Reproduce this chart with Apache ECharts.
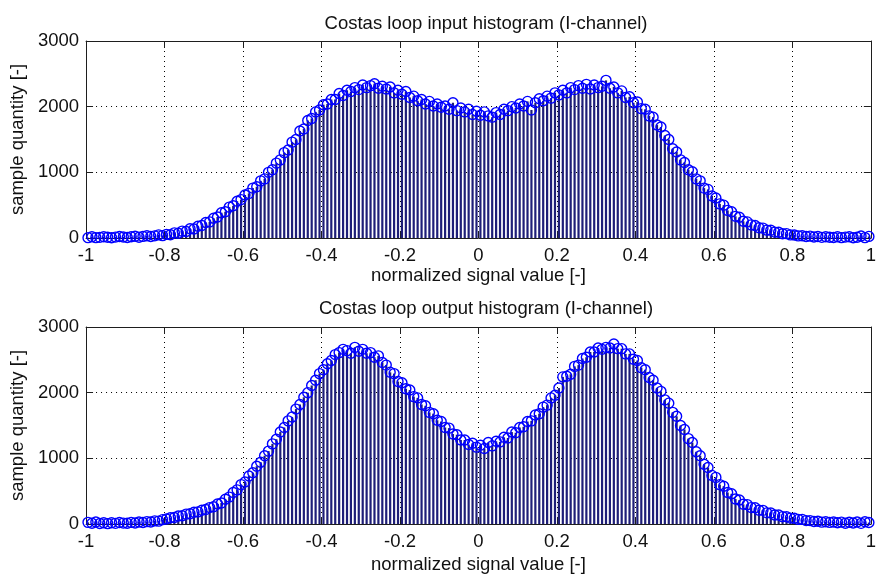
<!DOCTYPE html>
<html>
<head>
<meta charset="utf-8">
<script src="https://cdn.jsdelivr.net/npm/echarts@6/dist/echarts.min.js"></script>
<style>
html,body{margin:0;padding:0;background:#fff;}
#chart{width:879px;height:580px;}
</style>
</head>
<body>
<div id="chart"></div>
<script>
// Histogram definition: 200 bins spanning [-1, 1]
var binLow = -1, binHigh = 1, binCount = 200;

// Costas loop input histogram (I-channel), one value per bin, left to right
var inputCounts = [
  5, 18, 6, 10, 19, 12, 4, 14, 22, 15,
  8, 18, 26, 12, 24, 34, 22, 33, 48, 36,
  55, 50, 78, 72, 105, 100, 140, 138, 180, 190,
  235, 245, 300, 320, 385, 400, 470, 490, 560, 585,
  655, 680, 760, 780, 870, 900, 1000, 1040, 1140, 1190,
  1300, 1340, 1460, 1500, 1630, 1660, 1790, 1820, 1920, 1950,
  2030, 2040, 2110, 2110, 2200, 2170, 2250, 2230, 2290, 2260,
  2330, 2290, 2320, 2350, 2280, 2310, 2270, 2300, 2210, 2250,
  2190, 2230, 2140, 2160, 2090, 2110, 2040, 2080, 2010, 2040,
  1990, 2010, 1960, 2060, 1940, 1980, 1920, 1960, 1880, 1930,
  1870, 1920, 1860, 1840, 1910, 1880, 1960, 1940, 2000, 1980,
  2040, 2010, 2080, 1950, 2060, 2120, 2090, 2160, 2130, 2210,
  2180, 2250, 2210, 2290, 2260, 2320, 2280, 2340, 2270, 2330,
  2290, 2310, 2400, 2280, 2300, 2210, 2240, 2140, 2150, 2060,
  2070, 1970, 1960, 1860, 1840, 1720, 1690, 1560, 1500, 1360,
  1310, 1190, 1150, 1040, 1010, 900, 870, 760, 740, 640,
  610, 520, 500, 420, 400, 330, 315, 255, 245, 200,
  190, 155, 150, 120, 118, 90, 88, 65, 66, 48,
  46, 32, 34, 22, 28, 15, 22, 10, 18, 12,
  8, 18, 6, 14, 20, 4, 12, 30, 6, 24
];

// Costas loop output histogram (I-channel), one value per bin, left to right
var outputCounts = [
  25, 12, 30, 8, 18, 6, 20, 10, 22, 14,
  12, 24, 16, 30, 22, 36, 30, 48, 44, 66,
  76, 95, 100, 122, 126, 150, 155, 180, 185, 210,
  220, 250, 262, 305, 320, 378, 410, 480, 520, 600,
  640, 730, 780, 880, 940, 1040, 1110, 1220, 1290, 1400,
  1470, 1570, 1630, 1750, 1820, 1930, 2000, 2110, 2190, 2290,
  2350, 2440, 2490, 2580, 2610, 2660, 2640, 2600, 2690, 2630,
  2660, 2600, 2610, 2540, 2560, 2460, 2420, 2310, 2290, 2170,
  2150, 2060, 2040, 1940, 1920, 1820, 1800, 1700, 1680, 1580,
  1560, 1470, 1460, 1370, 1360, 1280, 1280, 1210, 1230, 1170,
  1200, 1150, 1240, 1190, 1260, 1250, 1320, 1310, 1400, 1390,
  1470, 1480, 1560, 1570, 1660, 1680, 1780, 1810, 1920, 1960,
  2070, 2240, 2250, 2280, 2400, 2420, 2520, 2540, 2620, 2620,
  2680, 2660, 2690, 2680, 2740, 2670, 2670, 2590, 2590, 2510,
  2490, 2380, 2350, 2230, 2190, 2070, 2020, 1890, 1840, 1700,
  1640, 1500, 1440, 1300, 1240, 1100, 1040, 910, 860, 740,
  710, 600, 575, 480, 460, 380, 365, 300, 295, 250,
  248, 210, 208, 170, 168, 138, 136, 112, 110, 90,
  88, 70, 70, 52, 52, 38, 42, 28, 34, 24,
  30, 18, 28, 12, 26, 16, 30, 10, 34, 22
];

var titles = ['Costas loop input histogram (I-channel)', 'Costas loop output histogram (I-channel)'];
var xAxisName = 'normalized signal value [-]';
var yAxisName = 'sample quantity [-]';
var xTicks = [-1, -0.8, -0.6, -0.4, -0.2, 0, 0.2, 0.4, 0.6, 0.8, 1];
var yTicks = [0, 1000, 2000, 3000];

// bin centers from the histogram definition
var binCenters = [];
var binWidth = (binHigh - binLow) / binCount;
for (var i = 0; i < binCount; i++) {
  binCenters.push(+(binLow + binWidth * (i + 0.5)).toFixed(4));
}
function pairs(vals) {
  return vals.map(function (v, i) { return [binCenters[i], v]; });
}

var FONT = 'Liberation Sans';
var FS = 18.5;
var frameColor = '#1e1e1e';
var gridTop = [41, 327];
var gridH = 197;
var nameGaps = [28, 31];

var option = {
  backgroundColor: '#fff',
  animation: false,
  title: titles.map(function (t, k) {
    return {
      text: t, left: 481, top: k === 0 ? 9 : 294, textAlign: 'center',
      textStyle: { fontFamily: FONT, fontSize: FS, fontWeight: 'normal', color: '#111' }
    };
  }),
  grid: gridTop.map(function (t) {
    return { left: 86, top: t, width: 790, height: gridH, containLabel: false };
  }),
  xAxis: [],
  yAxis: [],
  series: []
};

for (var g = 0; g < 2; g++) {
  option.xAxis.push({
    type: 'value', gridIndex: g, min: xTicks[0], max: xTicks[xTicks.length - 1], interval: 0.2,
    position: 'bottom',
    name: xAxisName, nameLocation: 'middle', nameGap: nameGaps[g],
    nameTextStyle: { fontFamily: FONT, fontSize: FS, color: '#111' },
    axisLine: { show: true, onZero: false, lineStyle: { color: frameColor, width: 1 } },
    axisTick: { show: true, inside: true, length: 7, lineStyle: { color: frameColor } },
    axisLabel: { fontFamily: FONT, fontSize: FS, color: '#111', margin: 8,
      formatter: function (v) { return String(Math.round(v * 10) / 10); } },
    splitLine: { show: true, lineStyle: { color: '#000', type: [1, 4], width: 1 } }
  });
  option.xAxis.push({
    type: 'value', gridIndex: g, min: -1, max: 1, interval: 0.2, position: 'top',
    axisLine: { show: true, onZero: false, lineStyle: { color: frameColor, width: 1 } },
    axisTick: { show: true, inside: true, length: 7, lineStyle: { color: frameColor } },
    axisLabel: { show: false }, splitLine: { show: false }
  });
  option.yAxis.push({
    type: 'value', gridIndex: g, min: yTicks[0], max: yTicks[yTicks.length - 1], interval: 1000,
    position: 'left',
    name: yAxisName, nameLocation: 'middle', nameGap: 49, nameRotate: 90,
    nameTextStyle: { fontFamily: FONT, fontSize: FS, color: '#111' },
    axisLine: { show: true, onZero: false, lineStyle: { color: frameColor, width: 1 } },
    axisTick: { show: true, inside: true, length: 7, lineStyle: { color: frameColor } },
    axisLabel: { fontFamily: FONT, fontSize: FS, color: '#111', margin: 7,
      formatter: function (v) { return String(v); } },
    splitLine: { show: true, lineStyle: { color: '#000', type: [1, 4], width: 1 } }
  });
  option.yAxis.push({
    type: 'value', gridIndex: g, min: 0, max: 3000, interval: 1000, position: 'right',
    axisLine: { show: true, onZero: false, lineStyle: { color: frameColor, width: 1 } },
    axisTick: { show: true, inside: true, length: 7, lineStyle: { color: frameColor } },
    axisLabel: { show: false }, splitLine: { show: false }
  });
  var vals = g === 0 ? inputCounts : outputCounts;
  option.series.push({
    type: 'bar', xAxisIndex: 2 * g, yAxisIndex: 2 * g, data: pairs(vals),
    barWidth: 2.2, itemStyle: { color: '#1e1e78' }, silent: true, z: 2
  });
  option.series.push({
    type: 'scatter', xAxisIndex: 2 * g, yAxisIndex: 2 * g, data: pairs(vals),
    symbol: 'circle', symbolSize: 10,
    itemStyle: { color: 'rgba(0,0,0,0)', borderColor: '#0000ff', borderWidth: 1.4, opacity: 1 },
    silent: true, z: 3
  });
}

var chart = echarts.init(document.getElementById('chart'), null, { renderer: 'canvas' });
chart.setOption(option);
</script>
</body>
</html>
